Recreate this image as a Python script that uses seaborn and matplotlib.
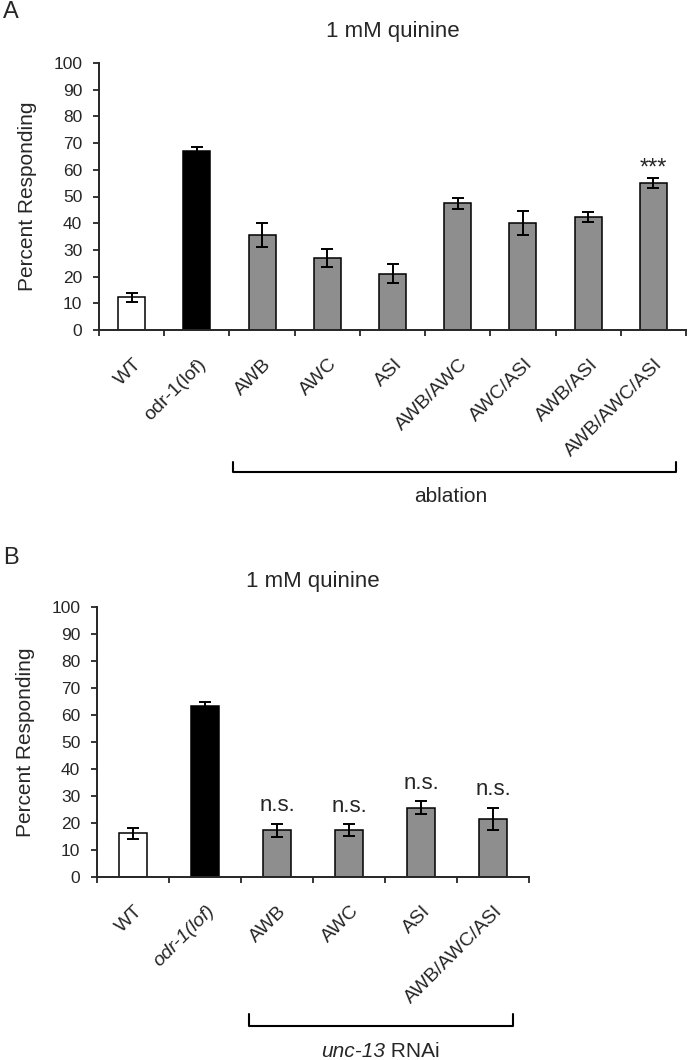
import numpy as np
import pandas as pd
import matplotlib
matplotlib.use("Agg")
import matplotlib.pyplot as plt
import matplotlib.transforms as mtransforms
import seaborn as sns

# --- dados ---
cats_a = ['WT', 'odr-1(lof)', 'AWB', 'AWC', 'ASI', 'AWB/AWC', 'AWC/ASI', 'AWB/ASI', 'AWB/AWC/ASI']
vals_a = [12.3, 66.9, 35.7, 27.0, 21.1, 47.5, 40.2, 42.4, 55.1]
errs_a = [1.7, 1.5, 4.5, 3.5, 3.6, 2.0, 4.5, 1.9, 1.8]
marks_a = ['', '', '', '', '', '', '', '', '***']

cats_b = ['WT', 'odr-1(lof)', 'AWB', 'AWC', 'ASI', 'AWB/AWC/ASI']
vals_b = [16.2, 63.2, 17.3, 17.3, 25.7, 21.6]
errs_b = [2.1, 1.5, 2.5, 2.2, 2.5, 4.1]
marks_b = ['', '', 'n.s.', 'n.s.', 'n.s.', 'n.s.']

WHITE, BLACK, GREY = '#ffffff', '#000000', '#8e8e8e'

sns.set_style('ticks')
plt.rcParams['font.family'] = ['Liberation Sans', 'DejaVu Sans']
plt.rcParams['axes.linewidth'] = 1.4

fig = plt.figure(figsize=(6.9, 10.6), dpi=100)
W, H = 690, 1060
ax_a = fig.add_axes([99 / W, 1 - 330 / H, (686 - 99) / W, 267 / H])
ax_b = fig.add_axes([97 / W, 1 - 877 / H, (529 - 97) / W, 270 / H])


def painel(ax, cats, vals, errs, marks, width, italic_odr, mark_gap, mark_size, title_pad):
    df = pd.DataFrame({'cat': cats, 'val': vals})
    cores = [WHITE, BLACK] + [GREY] * (len(cats) - 2)
    sns.barplot(data=df, x='cat', y='val', hue='cat', order=cats, hue_order=cats,
                palette=cores, width=width, edgecolor='black', linewidth=1.1,
                legend=False, errorbar=None, ax=ax)
    ax.errorbar(np.arange(len(cats)), vals, yerr=errs, fmt='none', ecolor='black',
                elinewidth=1.4, capsize=4, capthick=1.4, zorder=5)
    for i, (v, e, m) in enumerate(zip(vals, errs, marks)):
        if m:
            ax.text(i, v + e + mark_gap, m, ha='center', va='baseline', fontsize=mark_size)

    n = len(cats)
    ax.set_xlim(-0.5, n - 0.5)
    ax.set_ylim(0, 100)
    ax.set_yticks(np.arange(0, 101, 10))
    ax.set_xticks(np.arange(-0.5, n), minor=True)
    sns.despine(ax=ax)
    ax.tick_params(axis='y', length=4, width=1.3, labelsize=12.5, pad=8)
    ax.tick_params(axis='x', which='major', length=0, pad=18.5)
    ax.tick_params(axis='x', which='minor', length=4, width=1.3)
    ax.set_xticks(np.arange(n))
    ax.set_xticklabels(cats, rotation=45, ha='right', va='top',
                       rotation_mode='anchor', fontsize=14)
    desloc = mtransforms.ScaledTranslation(1 / 100, 0, fig.dpi_scale_trans)
    for lbl in ax.get_xticklabels():
        lbl.set_transform(lbl.get_transform() + desloc)
        if italic_odr and lbl.get_text().startswith('odr'):
            lbl.set_style('italic')
    ax.set_xlabel('')
    ax.set_ylabel('Percent Responding', fontsize=15)
    ax.set_title('1 mM quinine', fontsize=16, pad=title_pad)


painel(ax_a, cats_a, vals_a, errs_a, marks_a, 0.415, False, 1.5, 17, 18.5)
painel(ax_b, cats_b, vals_b, errs_b, marks_b, 0.40, True, 4.5, 16, 14.5)
ax_a.yaxis.set_label_coords(-0.106, 0.5)
ax_b.yaxis.set_label_coords(-0.1435, 0.5)

# colchetes
tr_a = ax_a.get_xaxis_transform()
ax_a.plot([1.56, 1.56, 8.35, 8.35], [-0.494, -0.532, -0.532, -0.494],
          color='black', lw=1.5, transform=tr_a, clip_on=False)
ax_a.text(4.9, -0.622, 'ablation', ha='center', va='center', fontsize=15,
          transform=tr_a)

tr_b = ax_b.get_xaxis_transform()
ax_b.plot([1.61, 1.61, 5.28, 5.28], [-0.507, -0.552, -0.552, -0.507],
          color='black', lw=1.5, transform=tr_b, clip_on=False)
ax_b.annotate('unc-13', xy=(3.43, -0.648), xycoords=tr_b, xytext=(3.5, 0),
              textcoords='offset points', ha='right', va='center',
              fontsize=15, style='italic')
ax_b.annotate(' RNAi', xy=(3.43, -0.648), xycoords=tr_b, xytext=(3.5, 0),
              textcoords='offset points', ha='left', va='center', fontsize=15)

fig.text(3 / W, 1 - 12 / H, 'A', fontsize=17, ha='left', va='center')
fig.text(3 / W, 1 - 558 / H, 'B', fontsize=17, ha='left', va='center')

fig.savefig('out.png', dpi=100, facecolor='white')
